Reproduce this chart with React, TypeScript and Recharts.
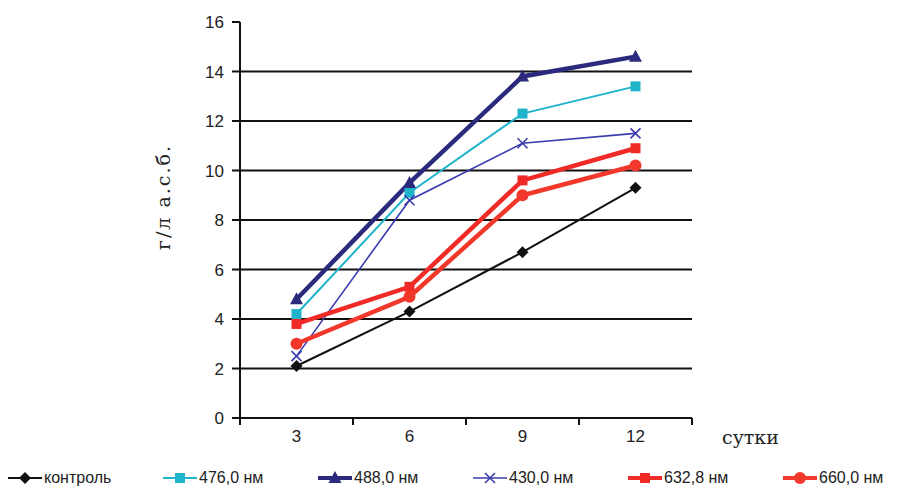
import { LineChart, Line, XAxis, YAxis, CartesianGrid, Legend } from "recharts";

const days = [3, 6, 9, 12];
const control = [2.1, 4.3, 6.7, 9.3];
const nm476 = [4.2, 9.1, 12.3, 13.4];
const nm488 = [4.8, 9.5, 13.8, 14.6];
const nm430 = [2.5, 8.8, 11.1, 11.5];
const nm632 = [3.8, 5.3, 9.6, 10.9];
const nm660 = [3.0, 4.9, 9.0, 10.2];
const yTicks = [0, 2, 4, 6, 8, 10, 12, 14, 16];
const gridValues = [2, 4, 6, 8, 10, 12, 14];
const bandEdges = [1.5, 4.5, 7.5, 10.5, 13.5];

const data = days.map((d, i) => ({
  day: d,
  control: control[i],
  nm476: nm476[i],
  nm488: nm488[i],
  nm430: nm430[i],
  nm632: nm632[i],
  nm660: nm660[i],
}));

type Marker = "diamond" | "square" | "triangle" | "cross" | "circle";

function drawMarker(kind: Marker, cx: number, cy: number, color: string, key?: string) {
  switch (kind) {
    case "diamond":
      return <path key={key} d={`M${cx},${cy - 6}L${cx + 6},${cy}L${cx},${cy + 6}L${cx - 6},${cy}Z`} fill={color} />;
    case "square":
      return <rect key={key} x={cx - 5} y={cy - 5} width={10} height={10} fill={color} />;
    case "triangle":
      return <path key={key} d={`M${cx},${cy - 7}L${cx + 6.5},${cy + 5}L${cx - 6.5},${cy + 5}Z`} fill={color} />;
    case "cross":
      return (
        <path key={key} d={`M${cx - 5},${cy - 5}L${cx + 5},${cy + 5}M${cx + 5},${cy - 5}L${cx - 5},${cy + 5}`}
          stroke={color} strokeWidth={1.6} fill="none" />
      );
    default:
      return <circle key={key} cx={cx} cy={cy} r={6} fill={color} />;
  }
}

const series: { key: string; name: string; color: string; width: number; marker: Marker }[] = [
  { key: "control", name: "контроль", color: "#111111", width: 2, marker: "diamond" },
  { key: "nm476", name: "476,0 нм", color: "#1fb4c9", width: 2, marker: "square" },
  { key: "nm488", name: "488,0 нм", color: "#2b2a7c", width: 4.5, marker: "triangle" },
  { key: "nm430", name: "430,0 нм", color: "#3b3cae", width: 1.6, marker: "cross" },
  { key: "nm632", name: "632,8 нм", color: "#f02a26", width: 4.5, marker: "square" },
  { key: "nm660", name: "660,0 нм", color: "#f2372b", width: 4.5, marker: "circle" },
];

function LegendRow() {
  return (
    <div style={{ display: "flex", paddingLeft: 6, fontFamily: "Liberation Sans, Arial, sans-serif", fontSize: 16, whiteSpace: "nowrap" }}>
      {series.map((s) => (
        <div key={s.key} style={{ width: 155, flex: "0 0 155px", display: "flex", alignItems: "center", color: "#222" }}>
          <svg width={38} height={16}>
            <line x1={2} y1={8} x2={36} y2={8} stroke={s.color} strokeWidth={Math.min(s.width, 4)} />
            {drawMarker(s.marker, 19, 8, s.color)}
          </svg>
          <span>{s.name}</span>
        </div>
      ))}
    </div>
  );
}

const sans = "Liberation Sans, Arial, sans-serif";

export default function App() {
  return (
    <div style={{ position: "absolute", left: 0, top: 0, background: "#fff" }}>
      <LineChart width={898} height={490} data={data} margin={{ top: 22, right: 206, left: 150, bottom: 0 }}>
        <CartesianGrid horizontal vertical={false} horizontalValues={gridValues} stroke="#111" strokeWidth={2} />
        <XAxis
          xAxisId="edges"
          dataKey="day"
          type="number"
          domain={[1.5, 13.5]}
          ticks={bandEdges}
          tickFormatter={() => ""}
          interval={0}
          tickSize={7}
          tickLine={{ stroke: "#111", strokeWidth: 2 }}
          axisLine={false}
          height={1}
        />
        <XAxis
          xAxisId="main"
          dataKey="day"
          type="number"
          domain={[1.5, 13.5]}
          ticks={days}
          interval={0}
          tickLine={false}
          tickMargin={5}
          axisLine={false}
          tick={{ fill: "#222", fontSize: 17, fontFamily: sans }}
          height={41}
          label={(props: any) => {
            const vb = props.viewBox;
            return (
              <text x={vb.x + vb.width + 30} y={vb.y + 25} fontSize={19} fontFamily="DejaVu Serif, serif" fill="#222">
                сутки
              </text>
            );
          }}
        />
        <YAxis
          domain={[0, 16]}
          ticks={yTicks}
          width={90}
          tickSize={8}
          tickMargin={8}
          tickLine={{ stroke: "#111", strokeWidth: 2 }}
          axisLine={{ stroke: "#111", strokeWidth: 2 }}
          tick={{ fill: "#222", fontSize: 17, fontFamily: sans }}
          label={(props: any) => {
            const vb = props.viewBox;
            const cx = vb.x + 20;
            const cy = vb.y + vb.height / 2 - 23;
            return (
              <text x={cx} y={cy} transform={`rotate(-90 ${cx} ${cy})`} textAnchor="middle"
                fontSize={19} fontFamily="DejaVu Serif, serif" fill="#222" letterSpacing={2}>
                г/л а.с.б.
              </text>
            );
          }}
        />
        <CartesianGrid horizontal vertical={false} horizontalValues={[0]} stroke="#111" strokeWidth={2} />
        {series.map((s) => (
          <Line
            key={s.key}
            xAxisId="main"
            dataKey={s.key}
            name={s.name}
            stroke={s.color}
            strokeWidth={s.width}
            isAnimationActive={false}
            dot={(p: any) => drawMarker(s.marker, p.cx, p.cy, s.color, `${s.key}-${p.index}`)}
            activeDot={false}
          />
        ))}
        <Legend
          verticalAlign="bottom"
          height={30}
          wrapperStyle={{ left: 0, width: 898, top: 469 }}
          content={() => <LegendRow />}
        />
      </LineChart>
    </div>
  );
}
